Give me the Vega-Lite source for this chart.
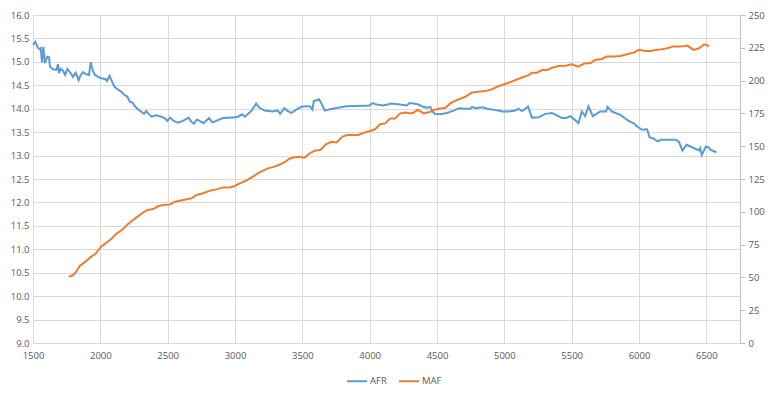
{
  "$schema": "https://vega.github.io/schema/vega-lite/v6.json",
  "width": 707,
  "height": 328,
  "autosize": "none",
  "padding": {"left": 33, "top": 15, "right": 31, "bottom": 52},
  "background": "white",
  "config": {
    "view": {"stroke": null},
    "font": "Open Sans",
    "axis": {
      "labelColor": "#595959",
      "labelFontSize": 9.5,
      "gridColor": "#D9D9D9",
      "gridWidth": 1,
      "domainColor": "#D9D9D9",
      "tickColor": "#BFBFBF",
      "title": null
    },
    "legend": {"labelColor": "#595959", "labelFontSize": 9.5}
  },
  "datasets": {
    "afr": [
      {"rpm": 1500, "value": 15.36}, {"rpm": 1517, "value": 15.43}, {"rpm": 1537, "value": 15.30}, {"rpm": 1550, "value": 15.27},
      {"rpm": 1557, "value": 15.29}, {"rpm": 1567, "value": 14.99}, {"rpm": 1577, "value": 15.32}, {"rpm": 1589, "value": 14.97},
      {"rpm": 1606, "value": 15.11}, {"rpm": 1619, "value": 15.10}, {"rpm": 1626, "value": 14.90}, {"rpm": 1648, "value": 14.84},
      {"rpm": 1673, "value": 14.83}, {"rpm": 1686, "value": 14.95}, {"rpm": 1693, "value": 14.76}, {"rpm": 1705, "value": 14.85},
      {"rpm": 1723, "value": 14.81}, {"rpm": 1738, "value": 14.72}, {"rpm": 1755, "value": 14.85}, {"rpm": 1777, "value": 14.77},
      {"rpm": 1797, "value": 14.68}, {"rpm": 1817, "value": 14.77}, {"rpm": 1839, "value": 14.61}, {"rpm": 1851, "value": 14.70},
      {"rpm": 1871, "value": 14.78}, {"rpm": 1891, "value": 14.74}, {"rpm": 1916, "value": 14.72}, {"rpm": 1928, "value": 14.99},
      {"rpm": 1945, "value": 14.81}, {"rpm": 1958, "value": 14.73}, {"rpm": 1983, "value": 14.68}, {"rpm": 2007, "value": 14.65},
      {"rpm": 2040, "value": 14.63}, {"rpm": 2049, "value": 14.59}, {"rpm": 2069, "value": 14.70}, {"rpm": 2087, "value": 14.58},
      {"rpm": 2106, "value": 14.46}, {"rpm": 2131, "value": 14.41}, {"rpm": 2156, "value": 14.36}, {"rpm": 2181, "value": 14.29},
      {"rpm": 2200, "value": 14.26}, {"rpm": 2218, "value": 14.15}, {"rpm": 2238, "value": 14.13}, {"rpm": 2260, "value": 14.04},
      {"rpm": 2287, "value": 13.97}, {"rpm": 2312, "value": 13.92}, {"rpm": 2324, "value": 13.89}, {"rpm": 2341, "value": 13.95},
      {"rpm": 2359, "value": 13.89}, {"rpm": 2379, "value": 13.83}, {"rpm": 2416, "value": 13.86}, {"rpm": 2453, "value": 13.83},
      {"rpm": 2483, "value": 13.79}, {"rpm": 2497, "value": 13.74}, {"rpm": 2520, "value": 13.81}, {"rpm": 2544, "value": 13.74},
      {"rpm": 2577, "value": 13.70}, {"rpm": 2614, "value": 13.74}, {"rpm": 2656, "value": 13.81}, {"rpm": 2676, "value": 13.72},
      {"rpm": 2695, "value": 13.68}, {"rpm": 2718, "value": 13.77}, {"rpm": 2737, "value": 13.74}, {"rpm": 2767, "value": 13.69},
      {"rpm": 2807, "value": 13.80}, {"rpm": 2832, "value": 13.71}, {"rpm": 2861, "value": 13.74}, {"rpm": 2911, "value": 13.80},
      {"rpm": 2985, "value": 13.81}, {"rpm": 3022, "value": 13.83}, {"rpm": 3052, "value": 13.88}, {"rpm": 3072, "value": 13.83},
      {"rpm": 3121, "value": 13.95}, {"rpm": 3157, "value": 14.11}, {"rpm": 3182, "value": 14.02}, {"rpm": 3219, "value": 13.96},
      {"rpm": 3281, "value": 13.94}, {"rpm": 3318, "value": 13.96}, {"rpm": 3335, "value": 13.89}, {"rpm": 3367, "value": 14.01},
      {"rpm": 3392, "value": 13.95}, {"rpm": 3420, "value": 13.91}, {"rpm": 3455, "value": 13.98}, {"rpm": 3493, "value": 14.04},
      {"rpm": 3530, "value": 14.05}, {"rpm": 3555, "value": 14.05}, {"rpm": 3575, "value": 13.98}, {"rpm": 3585, "value": 14.16},
      {"rpm": 3624, "value": 14.20}, {"rpm": 3642, "value": 14.11}, {"rpm": 3667, "value": 13.96}, {"rpm": 3704, "value": 13.99},
      {"rpm": 3766, "value": 14.02}, {"rpm": 3828, "value": 14.05}, {"rpm": 3903, "value": 14.06}, {"rpm": 3998, "value": 14.07},
      {"rpm": 4020, "value": 14.12}, {"rpm": 4052, "value": 14.09}, {"rpm": 4102, "value": 14.07}, {"rpm": 4164, "value": 14.11},
      {"rpm": 4227, "value": 14.09}, {"rpm": 4276, "value": 14.07}, {"rpm": 4296, "value": 14.12}, {"rpm": 4326, "value": 14.11},
      {"rpm": 4363, "value": 14.09}, {"rpm": 4396, "value": 14.04}, {"rpm": 4426, "value": 14.02}, {"rpm": 4450, "value": 14.04},
      {"rpm": 4470, "value": 13.93}, {"rpm": 4483, "value": 13.89}, {"rpm": 4525, "value": 13.88}, {"rpm": 4574, "value": 13.91},
      {"rpm": 4624, "value": 13.96}, {"rpm": 4661, "value": 14.01}, {"rpm": 4723, "value": 14.00}, {"rpm": 4748, "value": 14.00},
      {"rpm": 4760, "value": 14.04}, {"rpm": 4785, "value": 14.01}, {"rpm": 4842, "value": 14.03}, {"rpm": 4871, "value": 14.00},
      {"rpm": 4896, "value": 13.99}, {"rpm": 4933, "value": 13.97}, {"rpm": 4958, "value": 13.96}, {"rpm": 4983, "value": 13.94},
      {"rpm": 5032, "value": 13.94}, {"rpm": 5082, "value": 13.96}, {"rpm": 5106, "value": 14.00}, {"rpm": 5131, "value": 13.95},
      {"rpm": 5156, "value": 14.00}, {"rpm": 5176, "value": 14.05}, {"rpm": 5205, "value": 13.81}, {"rpm": 5255, "value": 13.82},
      {"rpm": 5304, "value": 13.89}, {"rpm": 5354, "value": 13.91}, {"rpm": 5391, "value": 13.86}, {"rpm": 5428, "value": 13.80},
      {"rpm": 5460, "value": 13.80}, {"rpm": 5490, "value": 13.84}, {"rpm": 5525, "value": 13.76}, {"rpm": 5550, "value": 13.69},
      {"rpm": 5575, "value": 13.94}, {"rpm": 5600, "value": 13.84}, {"rpm": 5625, "value": 14.05}, {"rpm": 5657, "value": 13.84},
      {"rpm": 5712, "value": 13.94}, {"rpm": 5756, "value": 13.94}, {"rpm": 5766, "value": 14.04}, {"rpm": 5799, "value": 13.94},
      {"rpm": 5861, "value": 13.87}, {"rpm": 5898, "value": 13.79}, {"rpm": 5923, "value": 13.74}, {"rpm": 5961, "value": 13.69},
      {"rpm": 5986, "value": 13.62}, {"rpm": 6023, "value": 13.55}, {"rpm": 6060, "value": 13.56}, {"rpm": 6078, "value": 13.39},
      {"rpm": 6110, "value": 13.36}, {"rpm": 6140, "value": 13.30}, {"rpm": 6160, "value": 13.34}, {"rpm": 6235, "value": 13.34},
      {"rpm": 6272, "value": 13.34}, {"rpm": 6297, "value": 13.29}, {"rpm": 6322, "value": 13.11}, {"rpm": 6354, "value": 13.23},
      {"rpm": 6421, "value": 13.14}, {"rpm": 6446, "value": 13.11}, {"rpm": 6454, "value": 13.16}, {"rpm": 6466, "value": 13.01},
      {"rpm": 6496, "value": 13.19}, {"rpm": 6513, "value": 13.18}, {"rpm": 6533, "value": 13.12}, {"rpm": 6576, "value": 13.07}
    ],
    "maf": [
      {"rpm": 1766, "value": 50.5}, {"rpm": 1798, "value": 51.8}, {"rpm": 1815, "value": 53.6}, {"rpm": 1847, "value": 58.7},
      {"rpm": 1889, "value": 62.0}, {"rpm": 1931, "value": 65.8}, {"rpm": 1963, "value": 67.8}, {"rpm": 2005, "value": 73.4},
      {"rpm": 2049, "value": 76.7}, {"rpm": 2086, "value": 79.8}, {"rpm": 2123, "value": 83.6}, {"rpm": 2160, "value": 86.1},
      {"rpm": 2197, "value": 89.9}, {"rpm": 2234, "value": 93.0}, {"rpm": 2276, "value": 96.3}, {"rpm": 2315, "value": 99.3},
      {"rpm": 2350, "value": 101.4}, {"rpm": 2394, "value": 102.1}, {"rpm": 2431, "value": 104.4}, {"rpm": 2468, "value": 105.2},
      {"rpm": 2517, "value": 105.5}, {"rpm": 2554, "value": 107.7}, {"rpm": 2616, "value": 109.0}, {"rpm": 2677, "value": 110.2},
      {"rpm": 2714, "value": 112.8}, {"rpm": 2764, "value": 114.1}, {"rpm": 2813, "value": 116.1}, {"rpm": 2862, "value": 117.1},
      {"rpm": 2911, "value": 118.6}, {"rpm": 2961, "value": 118.6}, {"rpm": 2998, "value": 119.7}, {"rpm": 3034, "value": 121.7},
      {"rpm": 3084, "value": 123.7}, {"rpm": 3133, "value": 126.8}, {"rpm": 3182, "value": 130.1}, {"rpm": 3244, "value": 133.1},
      {"rpm": 3293, "value": 134.4}, {"rpm": 3342, "value": 136.4}, {"rpm": 3374, "value": 138.2}, {"rpm": 3404, "value": 140.5},
      {"rpm": 3443, "value": 141.5}, {"rpm": 3480, "value": 142.0}, {"rpm": 3517, "value": 141.3}, {"rpm": 3555, "value": 144.6},
      {"rpm": 3592, "value": 146.6}, {"rpm": 3634, "value": 147.1}, {"rpm": 3674, "value": 151.4}, {"rpm": 3716, "value": 153.4},
      {"rpm": 3754, "value": 152.9}, {"rpm": 3799, "value": 157.3}, {"rpm": 3833, "value": 158.5}, {"rpm": 3915, "value": 158.5},
      {"rpm": 3958, "value": 160.3}, {"rpm": 4003, "value": 161.6}, {"rpm": 4040, "value": 162.9}, {"rpm": 4077, "value": 166.7},
      {"rpm": 4115, "value": 167.4}, {"rpm": 4152, "value": 171.2}, {"rpm": 4189, "value": 171.2}, {"rpm": 4227, "value": 175.0},
      {"rpm": 4264, "value": 175.6}, {"rpm": 4314, "value": 175.0}, {"rpm": 4358, "value": 177.6}, {"rpm": 4401, "value": 175.0},
      {"rpm": 4450, "value": 176.3}, {"rpm": 4488, "value": 178.0}, {"rpm": 4525, "value": 178.8}, {"rpm": 4562, "value": 179.3},
      {"rpm": 4599, "value": 182.6}, {"rpm": 4636, "value": 184.7}, {"rpm": 4673, "value": 186.2}, {"rpm": 4710, "value": 187.7},
      {"rpm": 4760, "value": 191.0}, {"rpm": 4809, "value": 191.5}, {"rpm": 4859, "value": 192.0}, {"rpm": 4908, "value": 193.3},
      {"rpm": 4946, "value": 195.3}, {"rpm": 4983, "value": 196.6}, {"rpm": 5032, "value": 198.4}, {"rpm": 5082, "value": 200.4},
      {"rpm": 5131, "value": 202.4}, {"rpm": 5181, "value": 204.2}, {"rpm": 5205, "value": 206.0}, {"rpm": 5243, "value": 206.0},
      {"rpm": 5280, "value": 208.0}, {"rpm": 5317, "value": 208.0}, {"rpm": 5354, "value": 209.8}, {"rpm": 5403, "value": 211.1},
      {"rpm": 5453, "value": 211.3}, {"rpm": 5502, "value": 212.4}, {"rpm": 5545, "value": 210.6}, {"rpm": 5600, "value": 213.2},
      {"rpm": 5637, "value": 213.2}, {"rpm": 5674, "value": 215.7}, {"rpm": 5724, "value": 216.5}, {"rpm": 5761, "value": 218.3},
      {"rpm": 5811, "value": 218.3}, {"rpm": 5861, "value": 218.8}, {"rpm": 5911, "value": 220.1}, {"rpm": 5961, "value": 221.3},
      {"rpm": 5998, "value": 223.4}, {"rpm": 6048, "value": 222.6}, {"rpm": 6085, "value": 222.6}, {"rpm": 6122, "value": 223.4},
      {"rpm": 6172, "value": 223.9}, {"rpm": 6210, "value": 224.6}, {"rpm": 6247, "value": 225.9}, {"rpm": 6309, "value": 225.9},
      {"rpm": 6359, "value": 226.7}, {"rpm": 6404, "value": 223.4}, {"rpm": 6446, "value": 224.6}, {"rpm": 6484, "value": 227.7},
      {"rpm": 6521, "value": 226.4}
    ]
  },
  "encoding": {
    "x": {
      "field": "rpm",
      "type": "quantitative",
      "scale": {"domain": [1500, 6750], "nice": false, "zero": false},
      "axis": {
        "values": [1500, 2000, 2500, 3000, 3500, 4000, 4500, 5000, 5500, 6000, 6500],
        "format": "d",
        "grid": true,
        "ticks": false,
        "domain": true,
        "labelFlush": false,
        "labelPadding": 7
      }
    }
  },
  "layer": [
    {
      "data": {"name": "afr"},
      "mark": {"type": "line", "strokeWidth": 2, "interpolate": "linear"},
      "encoding": {
        "y": {
          "field": "value",
          "type": "quantitative",
          "scale": {"domain": [9, 16], "nice": false, "zero": false},
          "axis": {
            "orient": "left",
            "values": [9, 9.5, 10, 10.5, 11, 11.5, 12, 12.5, 13, 13.5, 14, 14.5, 15, 15.5, 16],
            "format": ".1f",
            "grid": true,
            "ticks": false,
            "domain": false,
            "labelFlush": false,
            "labelPadding": 4
          }
        },
        "color": {
          "datum": "AFR",
          "type": "nominal",
          "scale": {"domain": ["AFR", "MAF"], "range": ["#5B9BD5", "#ED7D31"]},
          "legend": {
            "title": null,
            "orient": "none",
            "legendX": 313,
            "legendY": 355,
            "direction": "horizontal",
            "symbolType": "stroke",
            "symbolStrokeWidth": 2,
            "symbolSize": 400,
            "columnPadding": 8,
            "labelOffset": 2
          }
        }
      }
    },
    {
      "data": {"name": "maf"},
      "mark": {"type": "line", "strokeWidth": 2, "interpolate": "linear"},
      "encoding": {
        "y": {
          "field": "value",
          "type": "quantitative",
          "scale": {"domain": [0, 250], "nice": false},
          "axis": {
            "orient": "right",
            "values": [0, 25, 50, 75, 100, 125, 150, 175, 200, 225, 250],
            "grid": false,
            "ticks": true,
            "tickSize": 5,
            "domain": true,
            "domainColor": "#BFBFBF",
            "labelFlush": false,
            "labelPadding": 3
          }
        },
        "color": {"datum": "MAF", "type": "nominal"}
      }
    }
  ],
  "resolve": {"scale": {"y": "independent"}}
}
